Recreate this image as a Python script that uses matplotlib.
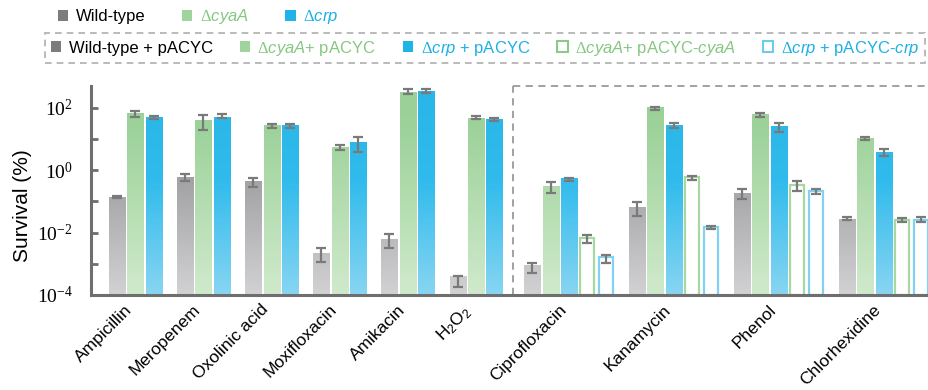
import numpy as np
import matplotlib.pyplot as plt
from matplotlib.colors import LinearSegmentedColormap
from matplotlib.patches import Patch
from matplotlib.ticker import NullFormatter

plt.rcParams['font.family'] = ['Liberation Sans', 'DejaVu Sans']
plt.rcParams['mathtext.fontset'] = 'custom'
plt.rcParams['mathtext.rm'] = 'Liberation Serif'
plt.rcParams['mathtext.it'] = 'Liberation Sans:italic'
plt.rcParams['mathtext.sf'] = 'Liberation Sans'

# data (survival %)
treatments = ['Ampicillin', 'Meropenem', 'Oxolinic acid', 'Moxifloxacin', 'Amikacin',
              r'$\mathsf{H_2O_2}$', 'Ciprofloxacin', 'Kanamycin', 'Phenol', 'Chlorhexidine']

wt = [0.137, 0.61, 0.44, 0.00217, 0.0060, 0.000305, 0.00084, 0.066, 0.183, 0.0277]
wt_lo = [0.13, 0.44, 0.29, 0.00113, 0.0031, 0.000175, 0.00051, 0.034, 0.119, 0.0245]
wt_hi = [0.145, 0.75, 0.56, 0.0032, 0.0091, 0.00042, 0.00108, 0.098, 0.257, 0.0305]

cya = [66, 39.8, 27.7, 5.59, 320, 48.3, 0.305, 102.4, 63, 10.8]
cya_lo = [50.7, 19.2, 22.2, 4.5, 277, 42.8, 0.192, 84, 49.5, 9.1]
cya_hi = [78.5, 58.7, 30.5, 6.62, 388, 54.6, 0.418, 108, 67.9, 11.3]

crp = [52, 52, 27.7, 8.04, 353, 42.8, 0.546, 27.7, 25.7, 3.88]
crp_lo = [45, 46, 22.2, 3.9, 298, 38.8, 0.46, 22.2, 16.6, 2.9]
crp_hi = [53.9, 63, 30.5, 11.9, 388, 47, 0.57, 32.8, 32.8, 4.95]

# complemented strains, only for the last four treatments
cya_c = [0.0066, 0.59, 0.336, 0.0258]
cya_c_lo = [0.0045, 0.47, 0.212, 0.0222]
cya_c_hi = [0.0082, 0.65, 0.45, 0.029]

crp_c = [0.00151, 0.0151, 0.222, 0.0258]
crp_c_lo = [0.00103, 0.0134, 0.179, 0.0212]
crp_c_hi = [0.00192, 0.0158, 0.257, 0.0305]

n_left = 6
n_right = 4

# layout
bar_w = 0.87
left_starts = np.arange(n_left) * 3.7
right_starts = left_starts[-1] + 4.05 + np.arange(n_right) * 5.7
divider = (left_starts[-1] + 2 + right_starts[0]) / 2
group_starts = np.concatenate([left_starts, right_starts])
centers = np.concatenate([left_starts + 1, right_starts + 2])

gray_cm = LinearSegmentedColormap.from_list('g', [(0, '#d2d2d4'), (0.62, '#9c9c9e'), (1, '#959597')])
green_cm = LinearSegmentedColormap.from_list('gr', [(0, '#d0eacc'), (0.8, '#9dd29a'), (1, '#9ad198')])
blue_cm = LinearSegmentedColormap.from_list('b', [(0, '#88d5f2'), (0.55, '#30bbec'), (1, '#29b5e8')])
grad = np.linspace(0, 1, 256).reshape(-1, 1)

err_col = '#7a7a7a'
spine_col = '#6e6e6e'

fig = plt.figure(figsize=(9.29, 3.9), dpi=100)
ax = fig.add_axes([91 / 929, 1 - 295 / 390, 838 / 929, 209 / 390])
ax.set_yscale('log')
ax.set_xlim(-1.41, right_starts[-1] + 4 + bar_w / 2 + 0.02)
ax.set_ylim(1e-4, 5e2)
ax.set_autoscale_on(False)


def draw_filled(xs, vals, lo, hi, cmap):
    bars = ax.bar(xs, vals, width=bar_w, bottom=1e-4, facecolor='none', edgecolor='none', zorder=2)
    for b in bars:
        im = ax.imshow(grad, cmap=cmap, extent=(0, 1, 0, 1), transform=ax.transAxes,
                       origin='lower', aspect='auto', interpolation='bilinear', zorder=2)
        im.set_clip_path(b)
    v = np.array(vals)
    ax.errorbar(xs, v, yerr=[v - np.array(lo), np.array(hi) - v], fmt='none',
                ecolor=err_col, elinewidth=1.6, capsize=3.3, capthick=1.6, zorder=4)


def draw_hollow(xs, vals, lo, hi, color):
    ax.bar(xs, vals, width=bar_w - 0.1, bottom=1e-4, facecolor='white', edgecolor=color,
           linewidth=1.6, zorder=2)
    v = np.array(vals)
    ax.errorbar(xs, v, yerr=[v - np.array(lo), np.array(hi) - v], fmt='none',
                ecolor=err_col, elinewidth=1.6, capsize=3.3, capthick=1.6, zorder=4)


draw_filled(group_starts, wt, wt_lo, wt_hi, gray_cm)
draw_filled(group_starts + 1, cya, cya_lo, cya_hi, green_cm)
draw_filled(group_starts + 2, crp, crp_lo, crp_hi, blue_cm)
draw_hollow(right_starts + 3, cya_c, cya_c_lo, cya_c_hi, '#a6d8a2')
draw_hollow(right_starts + 4, crp_c, crp_c_lo, crp_c_hi, '#82d1f1')

# dashed frame around the second panel
ax.plot([divider, divider], [0, 1], transform=ax.get_xaxis_transform(), ls=(0, (4, 3)),
        color='#9a9a9a', lw=1.3, clip_on=False, zorder=1)
ax.plot([divider, ax.get_xlim()[1]], [1, 1], transform=ax.get_xaxis_transform(), ls=(0, (4, 3)),
        color='#9a9a9a', lw=1.3, clip_on=False, zorder=1)

for s in ['top', 'right']:
    ax.spines[s].set_visible(False)
for s in ['left', 'bottom']:
    ax.spines[s].set_color(spine_col)
    ax.spines[s].set_linewidth(2.2)

ax.set_yticks([1e-4, 1e-2, 1e0, 1e2])
ax.set_yticks([1e-3, 1e-1, 1e1], minor=True)
ax.yaxis.set_minor_formatter(NullFormatter())
ax.set_yticklabels([r'$\mathrm{10^{-4}}$', r'$\mathrm{10^{-2}}$', r'$\mathrm{10^{0}}$',
                    r'$\mathrm{10^{2}}$'], fontsize=14)
ax.tick_params(axis='y', which='both', direction='in', length=5, width=2, color=spine_col, pad=13)
ax.set_ylabel('Survival (%)', fontsize=15)
ax.yaxis.set_label_coords(-0.070, 0.43)

ax.set_xticks(centers)
ax.set_xticklabels(treatments, rotation=45, ha='right', fontsize=12.5)
ax.tick_params(axis='x', length=0, pad=5)

# legends
fs = 12
row1 = [Patch(facecolor='#7c7c7e'), Patch(facecolor='#a0d49c'), Patch(facecolor='#1fb4e8')]
row1_labels = ['Wild-type', r'$\mathit{ΔcyaA}$', r'$\mathit{Δcrp}$']
leg1 = fig.legend(row1, row1_labels, loc='center left', bbox_to_anchor=(58 / 929, 1 - 17 / 390),
                  ncol=3, frameon=False, fontsize=fs, handlelength=0.62, handleheight=0.62,
                  handletextpad=0.45, columnspacing=2.2, borderpad=0, borderaxespad=0)

row2 = [Patch(facecolor='#7c7c7e'), Patch(facecolor='#a0d49c'), Patch(facecolor='#1fb4e8'),
        Patch(facecolor='white', edgecolor='#8cca88', linewidth=1.5),
        Patch(facecolor='white', edgecolor='#6ccbee', linewidth=1.5)]
row2_labels = ['Wild-type + pACYC', r'$\mathit{ΔcyaA}$+ pACYC', r'$\mathit{Δcrp}$ + pACYC',
               r'$\mathit{ΔcyaA}$+ pACYC-$\mathit{cyaA}$', r'$\mathit{Δcrp}$ + pACYC-$\mathit{crp}$']
leg2 = fig.legend(row2, row2_labels, loc='center', bbox_to_anchor=(45 / 929, 1 - 63 / 390, 880 / 929, 30 / 390),
                  mode='expand', ncol=5, fontsize=fs, handlelength=0.62, handleheight=0.62,
                  handletextpad=0.45, borderpad=0.35, borderaxespad=0, fancybox=False)
frame = leg2.get_frame()
frame.set_linestyle((0, (4, 3)))
frame.set_edgecolor('#9a9a9a')
frame.set_linewidth(1.2)

text_cols = ['black', '#86c882', '#1db0e6', '#86c882', '#1db0e6']
for t, c in zip(leg1.get_texts(), text_cols):
    t.set_color(c)
for t, c in zip(leg2.get_texts(), text_cols):
    t.set_color(c)

fig.savefig('out.png', dpi=100)
